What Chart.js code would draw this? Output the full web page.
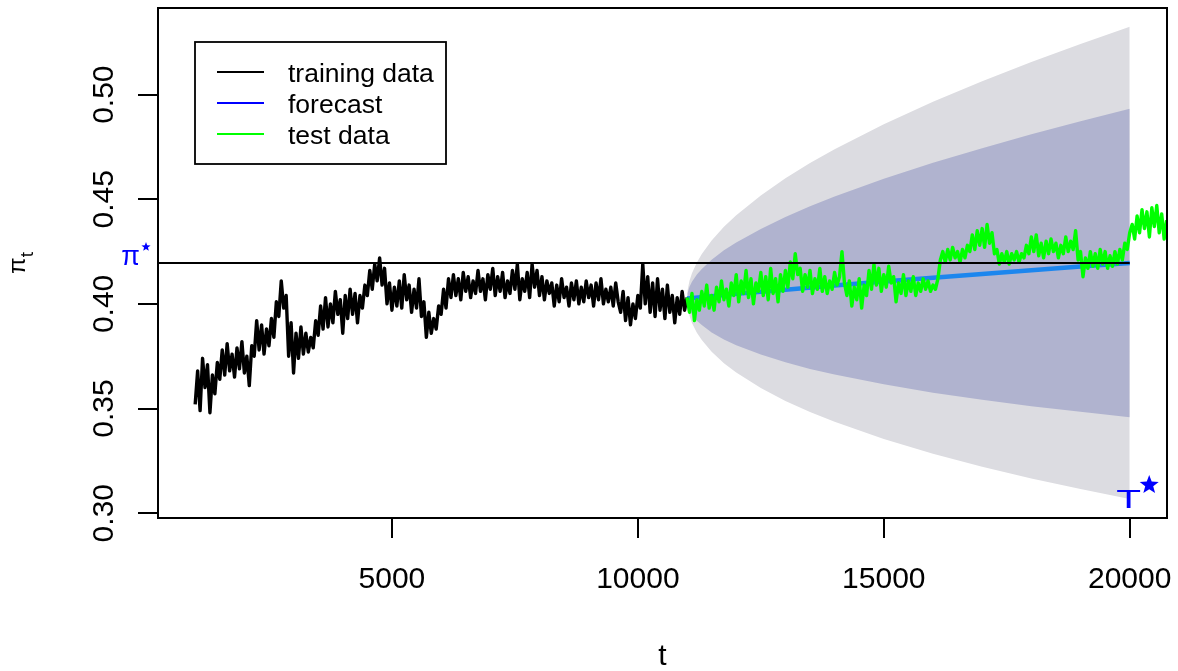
<!DOCTYPE html>
<html>
<head>
<meta charset="utf-8">
<script src="https://cdn.jsdelivr.net/npm/chart.js@4.4.0/dist/chart.umd.min.js"></script>
<style>
  html, body { margin: 0; padding: 0; background: #fff; }
  #wrap { width: 1178px; height: 671px; }
</style>
</head>
<body>
<div id="wrap"><canvas id="chart" width="1178" height="671"></canvas></div>
<script>
// training series, one value every 50 steps from t = 1000
const trainStart = 1000, trainStep = 50;
const trainValues = [
  0.352,0.368,0.349,0.374,0.360,0.371,0.348,0.366,0.357,0.372,
  0.364,0.378,0.366,0.381,0.368,0.376,0.365,0.379,0.369,0.382,
  0.367,0.375,0.361,0.380,0.375,0.392,0.378,0.390,0.376,0.388,
  0.380,0.393,0.384,0.401,0.394,0.411,0.398,0.404,0.375,0.391,
  0.367,0.386,0.374,0.389,0.376,0.386,0.377,0.384,0.379,0.392,
  0.385,0.399,0.388,0.403,0.389,0.400,0.391,0.406,0.395,0.402,
  0.386,0.404,0.393,0.407,0.395,0.405,0.391,0.404,0.398,0.409,
  0.404,0.416,0.407,0.419,0.411,0.422,0.409,0.417,0.400,0.410,
  0.397,0.408,0.399,0.411,0.398,0.414,0.402,0.409,0.396,0.407,
  0.398,0.412,0.394,0.401,0.384,0.396,0.386,0.393,0.388,0.399,
  0.395,0.407,0.398,0.412,0.403,0.414,0.404,0.412,0.402,0.415,
  0.406,0.413,0.403,0.411,0.405,0.416,0.406,0.412,0.402,0.414,
  0.407,0.417,0.404,0.413,0.406,0.415,0.403,0.411,0.405,0.416,
  0.407,0.419,0.402,0.412,0.406,0.415,0.403,0.419,0.408,0.416,
  0.404,0.413,0.402,0.411,0.405,0.410,0.399,0.409,0.401,0.412,
  0.403,0.408,0.399,0.410,0.402,0.411,0.400,0.408,0.401,0.411,
  0.403,0.409,0.399,0.410,0.402,0.412,0.400,0.407,0.401,0.408,
  0.399,0.410,0.401,0.396,0.406,0.392,0.403,0.390,0.400,0.393,
  0.404,0.398,0.419,0.400,0.413,0.396,0.410,0.394,0.412,0.397,
  0.407,0.393,0.409,0.396,0.404,0.391,0.403,0.395,0.406,0.397,
  0.403
];

// test series, one value every 50 steps from t = 11000
const testStart = 11000, testStep = 50;
const testValues = [
  0.403,0.396,0.405,0.392,0.402,0.397,0.406,0.399,0.409,0.398,
  0.404,0.397,0.408,0.401,0.411,0.402,0.407,0.399,0.410,0.404,
  0.414,0.401,0.411,0.405,0.416,0.403,0.412,0.400,0.410,0.406,
  0.415,0.404,0.413,0.402,0.417,0.405,0.412,0.401,0.414,0.406,
  0.416,0.408,0.420,0.412,0.424,0.414,0.417,0.406,0.414,0.408,
  0.416,0.405,0.412,0.407,0.417,0.406,0.413,0.405,0.411,0.407,
  0.415,0.409,0.413,0.425,0.410,0.404,0.411,0.399,0.408,0.402,
  0.412,0.398,0.409,0.404,0.416,0.407,0.419,0.409,0.417,0.406,
  0.414,0.408,0.418,0.410,0.413,0.401,0.410,0.405,0.414,0.404,
  0.411,0.406,0.413,0.404,0.410,0.406,0.412,0.407,0.411,0.406,
  0.409,0.407,0.412,0.421,0.425,0.420,0.426,0.421,0.427,0.422,
  0.425,0.420,0.426,0.422,0.428,0.425,0.433,0.426,0.435,0.428,
  0.436,0.427,0.438,0.429,0.434,0.424,0.426,0.419,0.424,0.420,
  0.425,0.419,0.424,0.421,0.425,0.420,0.424,0.422,0.428,0.424,
  0.432,0.425,0.433,0.423,0.429,0.422,0.430,0.424,0.431,0.425,
  0.429,0.422,0.428,0.424,0.432,0.425,0.430,0.426,0.435,0.421,
  0.425,0.413,0.422,0.417,0.425,0.418,0.424,0.417,0.426,0.419,
  0.425,0.417,0.423,0.418,0.425,0.419,0.426,0.421,0.429,0.426,
  0.434,0.438,0.431,0.442,0.434,0.445,0.436,0.444,0.432,0.446,
  0.437,0.447,0.434,0.443,0.431,0.440
];

// forecast mean
const forecastT = [11000, 12000, 13000, 14000, 15000, 16000, 17000, 18000, 19000, 20000];
const forecastValues = [0.4026, 0.4048, 0.4068, 0.4088, 0.4107, 0.4125, 0.4143, 0.4161, 0.4179, 0.4196];

// prediction bands (outer ~95%, inner ~80%)
const bandT = [11000, 11010, 11050, 11100, 11200, 11300, 11500, 11750, 12000, 12500, 13000, 13500, 14000, 15000, 16000, 17000, 18000, 19000, 20000];
const outerUpper = [0.4026,0.4064,0.4111,0.4147,0.4198,0.4239,0.4303,0.4369,0.4424,0.4518,0.4600,0.4673,0.4739,0.4859,0.4966,0.5064,0.5156,0.5242,0.5324];
const outerLower = [0.4026,0.3988,0.3943,0.3909,0.3862,0.3827,0.3771,0.3717,0.3672,0.3598,0.3536,0.3483,0.3437,0.3355,0.3284,0.3222,0.3166,0.3116,0.3068];
const innerUpper = [0.4026,0.4051,0.4082,0.4106,0.4140,0.4167,0.4211,0.4256,0.4294,0.4358,0.4415,0.4467,0.4513,0.4598,0.4674,0.4744,0.4811,0.4873,0.4933];
const innerLower = [0.4026,0.4001,0.3972,0.3950,0.3920,0.3899,0.3863,0.3830,0.3802,0.3758,0.3721,0.3689,0.3663,0.3616,0.3576,0.3542,0.3511,0.3485,0.3459];

const piStar = 0.4196;
const tStar = 20000;
const xRange = [244, 20758];
const yRange = [0.2977, 0.5414];
const xTicks = [5000, 10000, 15000, 20000];
const yTicks = [0.30, 0.35, 0.40, 0.45, 0.50];
const legendLabels = ['training data', 'forecast', 'test data'];
const legendColors = ['#000000', '#0000ff', '#00ff00'];

const FONT = '"Liberation Sans", Arial, Helvetica, sans-serif';

const series = (start, step, vals) => vals.map((v, i) => ({ x: start + i * step, y: v }));
const pairs = (ts, vals) => vals.map((v, i) => ({ x: ts[i], y: v }));

const band = (vals, color, fill, order) => ({
  data: pairs(bandT, vals), borderWidth: 0, borderColor: 'rgba(0,0,0,0)',
  backgroundColor: color, fill: fill, pointRadius: 0, order: order
});

const star = (ctx, cx, cy, r) => {
  ctx.beginPath();
  for (let i = 0; i < 10; i++) {
    const rad = i % 2 === 0 ? r : r * 0.42;
    const a = -Math.PI / 2 + i * Math.PI / 5;
    ctx.lineTo(cx + rad * Math.cos(a), cy + rad * Math.sin(a));
  }
  ctx.closePath();
  ctx.fill();
};

// box, legend, rotated y labels, titles and the pi*/T* marks
const decorations = {
  id: 'decorations',
  afterDraw(chart) {
    const { ctx, chartArea: a, scales: { x, y } } = chart;
    ctx.save();
    ctx.strokeStyle = '#000';
    ctx.lineWidth = 2;
    ctx.strokeRect(a.left, a.top, a.right - a.left, a.bottom - a.top);

    // y tick labels, rotated like R
    ctx.fillStyle = '#000';
    ctx.font = '30px ' + FONT;
    ctx.textAlign = 'center';
    ctx.textBaseline = 'alphabetic';
    yTicks.forEach(v => {
      ctx.save();
      ctx.translate(113, y.getPixelForValue(v));
      ctx.rotate(-Math.PI / 2);
      ctx.fillText(v.toFixed(2), 0, 0);
      ctx.restore();
    });

    // x title
    ctx.fillText('t', (a.left + a.right) / 2, 665);

    // y title pi_t
    ctx.save();
    ctx.translate(25, (a.top + a.bottom) / 2);
    ctx.rotate(-Math.PI / 2);
    ctx.textAlign = 'left';
    ctx.font = '24px ' + FONT;
    const w1 = ctx.measureText('π').width;
    ctx.font = '19px ' + FONT;
    const w2 = ctx.measureText('t').width;
    ctx.font = '24px ' + FONT;
    ctx.fillText('π', -(w1 + w2) / 2, 0);
    ctx.font = '19px ' + FONT;
    ctx.fillText('t', -(w1 + w2) / 2 + w1, 8);
    ctx.restore();

    // legend
    ctx.lineWidth = 1.8;
    ctx.strokeRect(195, 42, 251, 122);
    ctx.font = '26.5px ' + FONT;
    ctx.textAlign = 'left';
    legendLabels.forEach((lab, i) => {
      const ly = 72 + i * 31;
      ctx.strokeStyle = legendColors[i];
      ctx.lineWidth = 2;
      ctx.beginPath();
      ctx.moveTo(217, ly);
      ctx.lineTo(264, ly);
      ctx.stroke();
      ctx.fillStyle = '#000';
      ctx.fillText(lab, 288, ly + 10);
    });

    // pi* at the left margin
    ctx.fillStyle = '#0000ff';
    ctx.font = '27px ' + FONT;
    ctx.textAlign = 'right';
    const py = y.getPixelForValue(piStar);
    ctx.fillText('π', 140, py + 2.5);
    star(ctx, 146, py - 16, 4.8);

    // T* near the bottom right
    const tx = x.getPixelForValue(tStar);
    ctx.save();
    ctx.translate(tx - 1, 508);
    ctx.scale(1.45, 0.95);
    ctx.textAlign = 'center';
    ctx.font = '28px ' + FONT;
    ctx.fillText('T', 0, 0);
    ctx.restore();
    star(ctx, tx + 19.5, 485, 10);
    ctx.restore();
  }
};

new Chart(document.getElementById('chart'), {
  type: 'line',
  data: {
    datasets: [
      band(outerUpper, '#dcdce1', '+1', 10),
      band(outerLower, '#dcdce1', false, 10),
      band(innerUpper, '#b0b3cf', '+1', 9),
      band(innerLower, '#b0b3cf', false, 9),
      { label: 'pi*', data: [{ x: xRange[0], y: piStar }, { x: tStar, y: piStar }],
        borderColor: '#000', borderWidth: 2, pointRadius: 0, fill: false, order: 1 },
      { label: 'training data', data: series(trainStart, trainStep, trainValues),
        borderColor: '#000', borderWidth: 3.4, pointRadius: 0, fill: false, order: 3 },
      { label: 'forecast', data: pairs(forecastT, forecastValues),
        borderColor: '#1c86ee', borderWidth: 4.5, pointRadius: 0, fill: false, order: 4 },
      { label: 'test data', data: series(testStart, testStep, testValues),
        borderColor: '#00ff00', borderWidth: 3.4, pointRadius: 0, fill: false, order: 2 }
    ]
  },
  options: {
    responsive: false,
    animation: false,
    devicePixelRatio: 1,
    layout: { padding: { top: 8, right: 11, left: 0, bottom: 0 } },
    elements: { line: { tension: 0, borderJoinStyle: 'round' } },
    plugins: { legend: { display: false }, tooltip: { enabled: false } },
    scales: {
      x: {
        type: 'linear', min: xRange[0], max: xRange[1],
        afterBuildTicks: (s) => { s.ticks = xTicks.map(v => ({ value: v })); },
        afterFit: (s) => { s.height = 153; s.paddingLeft = 0; s.paddingRight = 0; },
        border: { display: false },
        grid: { drawOnChartArea: false, drawTicks: true, tickLength: 20, color: '#000', tickColor: '#000', tickWidth: 2, lineWidth: 2 },
        ticks: { color: '#000', font: { size: 30, family: FONT }, padding: 24, maxRotation: 0, autoSkip: false,
          callback: (v) => String(v) }
      },
      y: {
        type: 'linear', min: yRange[0], max: yRange[1],
        afterBuildTicks: (s) => { s.ticks = yTicks.map(v => ({ value: v })); },
        afterFit: (s) => { s.width = 158; s.paddingTop = 0; s.paddingBottom = 0; },
        border: { display: false },
        grid: { drawOnChartArea: false, drawTicks: true, tickLength: 20, color: '#000', tickColor: '#000', tickWidth: 2, lineWidth: 2 },
        ticks: { display: false }
      }
    }
  },
  plugins: [decorations]
});
</script>
</body>
</html>
